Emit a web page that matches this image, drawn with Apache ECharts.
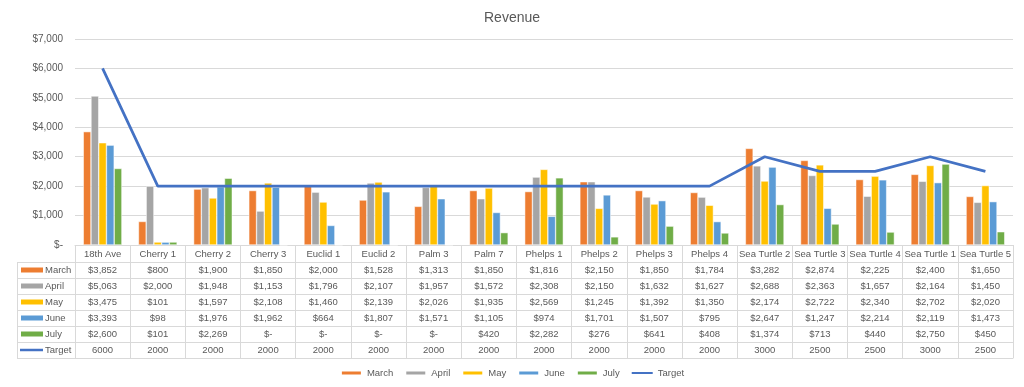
<!DOCTYPE html>
<html><head><meta charset="utf-8">
<script src="https://cdn.jsdelivr.net/npm/echarts@6/dist/echarts.min.js"></script>
<style>html,body{margin:0;padding:0;background:#fff}#c{width:1024px;height:387px}</style>
</head><body><div id="c"></div>
<script>
const categories = ['18th Ave','Cherry 1','Cherry 2','Cherry 3','Euclid 1','Euclid 2','Palm 3','Palm 7','Phelps 1','Phelps 2','Phelps 3','Phelps 4','Sea Turtle 2','Sea Turtle 3','Sea Turtle 4','Sea Turtle 1','Sea Turtle 5'];
const march  = [3852, 800, 1900, 1850, 2000, 1528, 1313, 1850, 1816, 2150, 1850, 1784, 3282, 2874, 2225, 2400, 1650];
const april  = [5063, 2000, 1948, 1153, 1796, 2107, 1957, 1572, 2308, 2150, 1632, 1627, 2688, 2363, 1657, 2164, 1450];
const may    = [3475, 101, 1597, 2108, 1460, 2139, 2026, 1935, 2569, 1245, 1392, 1350, 2174, 2722, 2340, 2702, 2020];
const june   = [3393, 98, 1976, 1962, 664, 1807, 1571, 1105, 974, 1701, 1507, 795, 2647, 1247, 2214, 2119, 1473];
const july   = [2600, 101, 2269, 0, 0, 0, 0, 420, 2282, 276, 641, 408, 1374, 713, 440, 2750, 450];
const target = [6000, 2000, 2000, 2000, 2000, 2000, 2000, 2000, 2000, 2000, 2000, 2000, 3000, 2500, 2500, 3000, 2500];
const yMin = 0, yMax = 7000, yStep = 1000;

const F = "'Liberation Sans',Arial,sans-serif";
const TS = 9.5;   // table font size
const TXT = '#595959', LINE = '#d9d9d9';
const rows = [
  {name:'March', data:march, color:'#ED7D31', kind:'bar'},
  {name:'April', data:april, color:'#A5A5A5', kind:'bar'},
  {name:'May', data:may, color:'#FFC000', kind:'bar'},
  {name:'June', data:june, color:'#5B9BD5', kind:'bar'},
  {name:'July', data:july, color:'#70AD47', kind:'bar'},
  {name:'Target', data:target, color:'#4472C4', kind:'line'}
];
function money(v){ return v === 0 ? '$-' : '$' + v.toLocaleString('en-US'); }
function cell(r, i){ return r.kind === 'line' ? String(r.data[i]) : money(r.data[i]); }

const GL = 75, GR = 11, GT = 39, GB = 142;
const baseY = 387 - GB;  // 245
const HEAD = 17, RH = 16;

const xAxes = [{
  type:'category', data:categories, gridIndex:0, position:'bottom',
  axisLine:{show:true, lineStyle:{color:LINE}},
  axisTick:{show:true, length:HEAD, interval:0, lineStyle:{color:LINE}},
  axisLabel:{interval:0, margin:9, verticalAlign:'middle', color:TXT, fontSize:TS, fontFamily:F}
}];
rows.forEach((r, k) => {
  xAxes.push({
    type:'category', data:categories, gridIndex:0, position:'bottom', offset: HEAD + k*RH,
    axisLine:{show:true, lineStyle:{color:LINE}},
    axisTick:{show:true, length:RH, interval:0, lineStyle:{color:LINE}},
    axisLabel:{interval:0, margin:8, verticalAlign:'middle', color:TXT, fontSize:TS, fontFamily:F,
      formatter:(v, idx) => cell(r, idx)}
  });
});
xAxes.push({
  type:'category', data:categories, gridIndex:0, position:'bottom', offset: HEAD + rows.length*RH,
  axisLine:{show:true, lineStyle:{color:LINE}}, axisTick:{show:false}, axisLabel:{show:false}
});

// left legend-key column of the data table
const graphics = [];
const tTop = baseY + HEAD, tBot = tTop + rows.length*RH, colL = 17;
graphics.push({type:'line', shape:{x1:colL+0.5, y1:tTop, x2:colL+0.5, y2:tBot}, style:{stroke:LINE, lineWidth:1}});
for (let k = 0; k <= rows.length; k++) {
  const y = tTop + k*RH + 0.5;
  graphics.push({type:'line', shape:{x1:colL, y1:y, x2:GL, y2:y}, style:{stroke:LINE, lineWidth:1}});
}
rows.forEach((r, k) => {
  const cy = tTop + k*RH + RH/2;
  if (r.kind === 'bar') graphics.push({type:'rect', shape:{x:21, y:cy-2.5, width:22, height:5}, style:{fill:r.color}});
  else graphics.push({type:'line', shape:{x1:20, y1:cy, x2:43, y2:cy}, style:{stroke:r.color, lineWidth:2.5}});
  graphics.push({type:'text', x:45, y:cy, style:{text:r.name, fill:TXT, fontSize:TS, fontFamily:F, verticalAlign:'middle', align:'left'}});
});

const series = rows.map(r => r.kind === 'bar' ? {
  name:r.name, type:'bar', xAxisIndex:0, data:r.data, barGap:'0%', barCategoryGap:'30%',
  itemStyle:{color:r.color, borderColor:'#fff', borderWidth:0.5}
} : {
  name:r.name, type:'line', xAxisIndex:0, data:r.data, symbol:'none', z:5,
  lineStyle:{color:r.color, width:2.75}, itemStyle:{color:r.color}
});

const chart = echarts.init(document.getElementById('c'), null, {renderer:'canvas'});
chart.setOption({
  animation:false,
  backgroundColor:'#fff',
  title:{text:'Revenue', left:'center', top:6, textStyle:{fontSize:14, fontWeight:'normal', color:TXT, fontFamily:F}},
  grid:{left:GL, right:GR, top:GT, bottom:GB, containLabel:false, outerBoundsMode:'none'},
  legend:{
    top:368, left:'center', itemWidth:21, itemHeight:5, itemGap:11, padding:0,
    textStyle:{color:TXT, fontSize:TS, fontFamily:F},
    data: rows.map(r => r.kind === 'bar' ? {name:r.name, icon:'rect'}
      : {name:r.name, itemStyle:{color:'rgba(0,0,0,0)', borderWidth:0}})
  },
  xAxis:xAxes,
  yAxis:{type:'value', min:yMin, max:yMax, interval:yStep,
    axisLine:{show:false}, axisTick:{show:false},
    splitLine:{lineStyle:{color:LINE}},
    axisLabel:{color:TXT, fontSize:10, fontFamily:F, margin:12, formatter:v => money(v)}
  },
  graphic:graphics,
  series:series
});
</script></body></html>
